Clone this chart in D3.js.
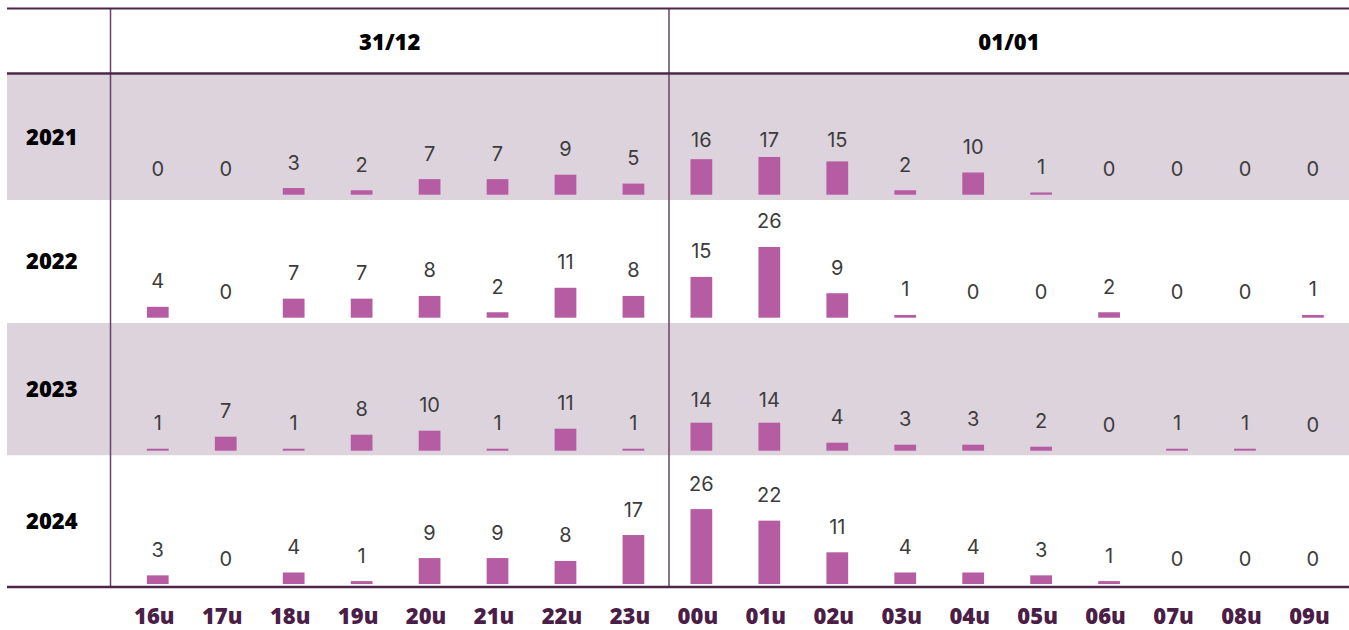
<!DOCTYPE html>
<html>
<head>
<meta charset="utf-8">
<script src="https://cdn.jsdelivr.net/npm/d3@7"></script>
<style>
html,body{margin:0;padding:0;background:#fff;}
svg{display:block;}
</style>
</head>
<body>
<svg id="chart" width="1349" height="630"></svg>
<script>
// ---- data ----
const hours = ["16u","17u","18u","19u","20u","21u","22u","23u","00u","01u","02u","03u","04u","05u","06u","07u","08u","09u"];
const days = ["31/12","01/01"];
const years = ["2021","2022","2023","2024"];
const v2021 = [0,0,3,2,7,7,9,5,16,17,15,2,10,1,0,0,0,0];
const v2022 = [4,0,7,7,8,2,11,8,15,26,9,1,0,0,2,0,0,1];
const v2023 = [1,7,1,8,10,1,11,1,14,14,4,3,3,2,0,1,1,0];
const v2024 = [3,0,4,1,9,9,8,17,26,22,11,4,4,3,1,0,0,0];
const series = [v2021, v2022, v2023, v2024];

// ---- layout ----
const W = 1349, left = 7;
const topLine = 8.5, headLine = 73.5, bottomLine = 587;
const rowTop = [74.5, 200, 323, 455.5];
const rowBot = [200, 323, 455.5, 586];
const baseline = [194.7, 317.7, 450.7, 584];
const pxPerUnit = [2.22, 2.72, 2.0, 2.88];
const labelCeil = [140, 0, 400, 0];
const shaded = [true, false, true, false];
const vLines = [110.5, 669];
const boldFont = "'Open Sans', sans-serif";
const valueFont = "Inter, 'Noto Sans', sans-serif";

const svg = d3.select("#chart");
const x = d3.scaleBand().domain(hours).range([123.8, 1346.9]).paddingInner(0.68).paddingOuter(0.34);

// row backgrounds
svg.selectAll("rect.band").data(years).join("rect")
  .attr("x", left).attr("width", W - left)
  .attr("y", (d,i) => rowTop[i]).attr("height", (d,i) => rowBot[i] - rowTop[i])
  .attr("fill", (d,i) => shaded[i] ? "#dcd3dc" : "#ffffff");

// vertical separators
svg.selectAll("line.v").data(vLines).join("line")
  .attr("x1", d => d).attr("x2", d => d)
  .attr("y1", topLine).attr("y2", bottomLine)
  .attr("stroke", "#6a4264").attr("stroke-width", 1.5);

// horizontal rules
[[topLine,2],[headLine,2.5],[bottomLine,2.5]].forEach(([y,w]) => {
  svg.append("line").attr("x1", left).attr("x2", W).attr("y1", y).attr("y2", y)
    .attr("stroke", "#4e2449").attr("stroke-width", w);
});

// day headers
const dayX = days.map((d,i) => {
  const a = vLines[i];
  const b = i + 1 < vLines.length ? vLines[i+1] : W;
  return (a + b) / 2;
});
svg.selectAll("text.day").data(days).join("text")
  .attr("x", (d,i) => dayX[i]).attr("y", 42).attr("dy", "0.36em")
  .attr("text-anchor", "middle")
  .attr("font-family", boldFont).attr("font-weight", 800)
  .attr("font-size", 22).attr("fill", "#000").text(d => d);

// year labels
svg.selectAll("text.year").data(years).join("text")
  .attr("x", 26).attr("y", (d,i) => (rowTop[i] + rowBot[i]) / 2).attr("dy", "0.36em")
  .attr("font-family", boldFont).attr("font-weight", 800)
  .attr("font-size", 22).attr("fill", "#000").text(d => d);

// bars + labels per row
series.forEach((vals, r) => {
  const y = d3.scaleLinear().domain([0, 26]).range([baseline[r], baseline[r] - 26 * pxPerUnit[r]]);
  const g = svg.append("g");
  g.selectAll("rect").data(vals).join("rect")
    .attr("x", (d,i) => x(hours[i])).attr("width", x.bandwidth())
    .attr("y", d => y(d)).attr("height", d => y(0) - y(d))
    .attr("fill", "#b55ca3");
  g.selectAll("text").data(vals).join("text")
    .attr("x", (d,i) => x(hours[i]) + x.bandwidth() / 2)
    .attr("y", d => Math.max(y(d) - 25.5, labelCeil[r]))
    .attr("dy", "0.35em").attr("text-anchor", "middle")
    .attr("font-family", valueFont).attr("font-weight", 400)
    .attr("font-size", 20).attr("fill", "#3c3c3c").text(d => d);
});

// hour axis labels
const axis = d3.axisBottom(x).tickSize(0).tickPadding(0);
const ax = svg.append("g").attr("transform", "translate(-3.5,0)").call(axis);
ax.select(".domain").remove();
ax.selectAll("text")
  .attr("y", 616).attr("dy", "0.36em")
  .attr("font-family", boldFont).attr("font-weight", 800)
  .attr("font-size", 22).attr("fill", "#4b1e47");
</script>
</body>
</html>
